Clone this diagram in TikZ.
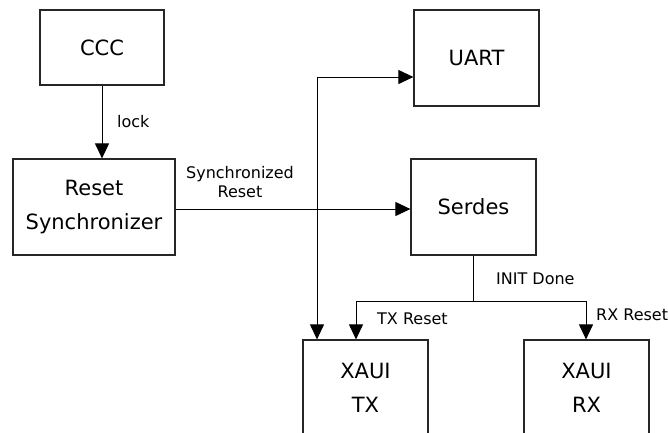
\documentclass[tikz,border=0pt]{standalone}
\usepackage{fontspec}
\setmainfont{DejaVu Sans}
\usetikzlibrary{arrows.meta}
\begin{document}
\begin{tikzpicture}[x=1pt,y=-1pt,
  box/.style={draw=black!85, line width=1.2pt, inner sep=0pt, align=center, minimum width=125pt, minimum height=96pt, font=\fontsize{21}{34}\selectfont},
  arr/.style={-{Triangle[length=15pt,width=14pt]}, line width=1pt},
  wire/.style={line width=1pt},
  lbl/.style={font=\fontsize{16}{19}\selectfont, inner sep=0pt, align=center}]
\useasboundingbox (0,0) rectangle (668,432);
\clip (0,0) rectangle (668,432);
\node[box, minimum width=124pt, minimum height=75pt] (ccc) at (102,47.5) {CCC};
\node[box, minimum width=162pt] (rs) at (94,207) {Reset\\Synchronizer};
\node[box] (uart) at (476.5,58) {UART};
\node[box] (serdes) at (473.5,207) {Serdes};
\node[box] (xtx) at (365.5,388) {XAUI\\TX};
\node[box] (xrx) at (586.5,388) {XAUI\\RX};
% connectors
\draw[arr] (ccc.south) -- (ccc.south |- rs.north);
\node[lbl, anchor=west] (llock) at (117,122) {lock};
\draw[arr] (rs.east |- 0,209) -- (serdes.west |- 0,209);
\node[lbl] (lsync) at (240,182) {Synchronized\\Reset};
\coordinate (j) at (317,77);
\draw[arr] (j) -- (j -| uart.west);
\draw[arr] (j) -- (j |- xtx.north);
\coordinate (b) at (473,301);
\coordinate (tx) at (356,301);
\coordinate (rx) at (586,301);
\draw[wire] (serdes.south) -- (serdes.south |- b);
\draw[arr] (b) -- (tx) -- (tx |- xtx.north);
\draw[arr] (b) -- (rx) -- (rx |- xrx.north);
\node[lbl, anchor=west] (linit) at (496,279) {INIT Done};
\node[lbl, anchor=west] (ltx) at (377,319) {TX Reset};
\node[lbl, anchor=west] (lrx) at (596,315) {RX Reset};
\end{tikzpicture}
\end{document}
